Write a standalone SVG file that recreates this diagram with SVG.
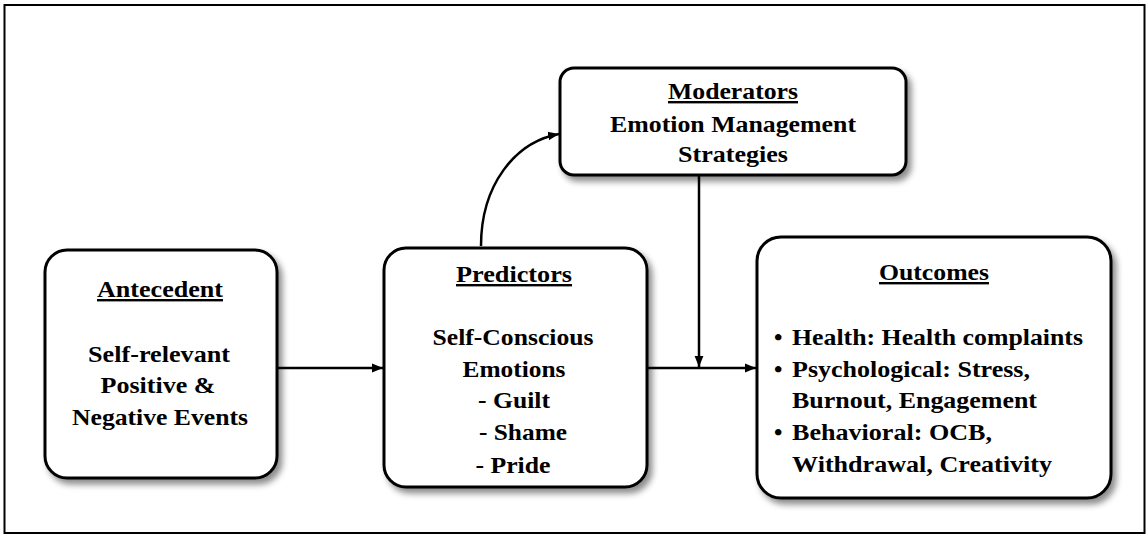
<svg xmlns="http://www.w3.org/2000/svg" width="1148" height="538" viewBox="0 0 1148 538">
<defs>
<filter id="sh" x="-10%" y="-10%" width="125%" height="125%">
<feDropShadow dx="4" dy="5" stdDeviation="3" flood-color="#000" flood-opacity="0.45"/>
</filter>
<marker id="ah" viewBox="0 0 10 10" refX="10" refY="5" markerWidth="11" markerHeight="11" markerUnits="userSpaceOnUse" orient="auto">
<path d="M0,1 L10,5 L0,9 Z" fill="#000"/>
</marker>
<style>
.box{fill:#fff;stroke:#000;stroke-width:3;filter:url(#sh)}
.t{font-family:"Liberation Serif","Times New Roman",serif;font-weight:bold;font-size:24px;fill:#000}
.c{text-anchor:middle}
.u{text-decoration:underline}
.ln{fill:none;stroke:#000;stroke-width:2.5}
</style>
</defs>
<rect x="0" y="0" width="1148" height="538" fill="#fff"/>
<rect x="4.5" y="5" width="1140" height="528" fill="none" stroke="#000" stroke-width="2"/>

<g id="connectors">
<line class="ln" x1="277" y1="368" x2="383" y2="368" marker-end="url(#ah)"/>
<line class="ln" x1="647" y1="368" x2="756" y2="368" marker-end="url(#ah)"/>
<line class="ln" x1="699" y1="175" x2="699" y2="367" marker-end="url(#ah)"/>
<path class="ln" d="M481,246 C481,185 515,142 559,134" marker-end="url(#ah)"/>
</g>

<g id="antecedent">
<rect class="box" x="45" y="250" width="232" height="228" rx="22"/>
<text class="t c u" x="160" y="297" textLength="126" lengthAdjust="spacingAndGlyphs">Antecedent</text>
<text class="t c" x="159" y="362" textLength="142" lengthAdjust="spacingAndGlyphs">Self-relevant</text>
<text class="t c" x="158" y="393" textLength="115" lengthAdjust="spacingAndGlyphs">Positive &amp;</text>
<text class="t c" x="160" y="425" textLength="176" lengthAdjust="spacingAndGlyphs">Negative Events</text>
</g>

<g id="predictors">
<rect class="box" x="384" y="248" width="263" height="239" rx="22"/>
<text class="t c u" x="514" y="282" textLength="116" lengthAdjust="spacingAndGlyphs">Predictors</text>
<text class="t c" x="513" y="345" textLength="161" lengthAdjust="spacingAndGlyphs">Self-Conscious</text>
<text class="t c" x="514" y="377" textLength="103" lengthAdjust="spacingAndGlyphs">Emotions</text>
<text class="t c" x="514" y="408" textLength="72" lengthAdjust="spacingAndGlyphs">- Guilt</text>
<text class="t c" x="523" y="440" textLength="88" lengthAdjust="spacingAndGlyphs">- Shame</text>
<text class="t c" x="513" y="473" textLength="75" lengthAdjust="spacingAndGlyphs">- Pride</text>
</g>

<g id="moderators">
<rect class="box" x="560" y="68" width="346" height="107" rx="14"/>
<text class="t c u" x="733" y="99" textLength="130" lengthAdjust="spacingAndGlyphs">Moderators</text>
<text class="t c" x="733" y="132" textLength="246" lengthAdjust="spacingAndGlyphs">Emotion Management</text>
<text class="t c" x="733" y="162" textLength="110" lengthAdjust="spacingAndGlyphs">Strategies</text>
</g>

<g id="outcomes">
<rect class="box" x="757" y="237" width="354" height="261" rx="24"/>
<text class="t c u" x="934" y="280" textLength="110" lengthAdjust="spacingAndGlyphs">Outcomes</text>
<text class="t" x="774" y="345">•</text>
<text class="t" x="792" y="345" textLength="291" lengthAdjust="spacingAndGlyphs">Health: Health complaints</text>
<text class="t" x="774" y="377">•</text>
<text class="t" x="792" y="377" textLength="238" lengthAdjust="spacingAndGlyphs">Psychological: Stress,</text>
<text class="t" x="792" y="408" textLength="245" lengthAdjust="spacingAndGlyphs">Burnout, Engagement</text>
<text class="t" x="774" y="440">•</text>
<text class="t" x="792" y="440" textLength="200" lengthAdjust="spacingAndGlyphs">Behavioral: OCB,</text>
<text class="t" x="792" y="472" textLength="260" lengthAdjust="spacingAndGlyphs">Withdrawal, Creativity</text>
</g>
</svg>
